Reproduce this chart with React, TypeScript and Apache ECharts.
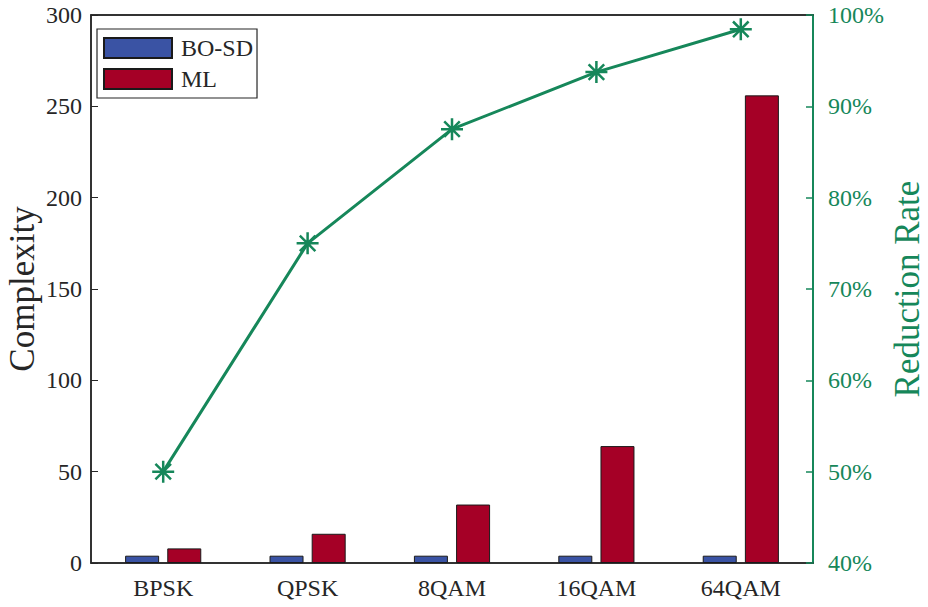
import React, { useEffect, useRef } from "react";
import * as echarts from "echarts";

const categories = ["BPSK", "QPSK", "8QAM", "16QAM", "64QAM"];
const bosdValues = [4, 4, 4, 4, 4];
const mlValues = [8, 16, 32, 64, 256];
const reductionRate = [50, 75, 87.5, 93.75, 98.4375];

const FONT = "Liberation Serif";
const GREEN = "#16875A";
const TXT = "#262626";
const ASTERISK =
  "path://M0,-10L0,10M-10,0L10,0M-7.07,-7.07L7.07,7.07M-7.07,7.07L7.07,-7.07";

export default function App() {
  const ref = useRef<HTMLDivElement>(null);
  useEffect(() => {
    if (!ref.current) return;
    const chart = echarts.init(ref.current, undefined, { renderer: "svg" });
    chart.setOption({
      animation: false,
      backgroundColor: "#fff",
      textStyle: { fontFamily: FONT },
      grid: {
        left: 91,
        right: 115,
        top: 15,
        bottom: 44,
        outerBoundsMode: "none",
        containLabel: false,
        show: true,
        borderColor: "#262626",
        borderWidth: 1.5,
        backgroundColor: "transparent",
      },
      legend: {
        orient: "vertical",
        left: 97,
        top: 29,
        icon: "rect",
        itemWidth: 68,
        itemHeight: 20,
        itemGap: 7,
        padding: [7, 4, 7, 6],
        borderColor: "#262626",
        borderWidth: 1.2,
        backgroundColor: "#fff",
        textStyle: { fontFamily: FONT, fontSize: 24, color: TXT, padding: [0, 0, 0, 4] },
        data: ["BO-SD", "ML"],
      },
      xAxis: [
        {
          type: "category",
          data: categories,
          axisLine: { lineStyle: { color: TXT, width: 1.5 } },
          axisTick: { inside: true, alignWithLabel: true, length: 7, lineStyle: { color: TXT } },
          axisLabel: { fontFamily: FONT, fontSize: 24, color: TXT, margin: 13 },
        },
        {
          type: "category",
          data: categories,
          position: "top",
          axisLine: { lineStyle: { color: TXT, width: 1.5 } },
          axisTick: { inside: true, alignWithLabel: true, length: 7, lineStyle: { color: TXT } },
          axisLabel: { show: false },
        },
      ],
      yAxis: [
        {
          type: "value",
          min: 0,
          max: 300,
          interval: 50,
          name: "Complexity",
          nameLocation: "middle",
          nameGap: 51,
          nameMoveOverlap: false,
          nameRotate: 90,
          nameTextStyle: { fontFamily: FONT, fontSize: 35, lineHeight: 35, color: TXT },
          axisLine: { show: true, lineStyle: { color: TXT, width: 1.5 } },
          axisTick: { show: true, inside: true, length: 7, lineStyle: { color: TXT } },
          axisLabel: { fontFamily: FONT, fontSize: 24, color: TXT, margin: 9 },
          splitLine: { show: false },
        },
        {
          type: "value",
          min: 40,
          max: 100,
          interval: 10,
          position: "right",
          name: "Reduction Rate",
          nameLocation: "middle",
          nameGap: 77,
          nameMoveOverlap: false,
          nameRotate: 90,
          nameTextStyle: { fontFamily: FONT, fontSize: 35, lineHeight: 35, color: GREEN },
          axisLine: { show: true, lineStyle: { color: GREEN, width: 2 } },
          axisTick: { show: true, inside: true, length: 7, lineStyle: { color: GREEN, width: 1.5 } },
          axisLabel: { fontFamily: FONT, fontSize: 24, color: GREEN, margin: 15, formatter: "{value}%" },
          splitLine: { show: false },
        },
      ],
      series: [
        {
          name: "BO-SD",
          type: "bar",
          data: bosdValues,
          barWidth: 34,
          barGap: "24%",
          itemStyle: { color: "#3A53A4", borderColor: "#1a1a1a", borderWidth: 1 },
        },
        {
          name: "ML",
          type: "bar",
          data: mlValues,
          barWidth: 34,
          itemStyle: { color: "#A50026", borderColor: "#1a1a1a", borderWidth: 1 },
        },
        {
          name: "Reduction Rate",
          type: "line",
          yAxisIndex: 1,
          data: reductionRate,
          symbol: ASTERISK,
          symbolSize: 22,
          lineStyle: { color: GREEN, width: 3 },
          itemStyle: { color: "none", borderColor: GREEN, borderWidth: 2.5 },
          z: 5,
        },
      ],
    });
    return () => chart.dispose();
  }, []);
  return <div ref={ref} style={{ width: 928, height: 607, position: "absolute", left: 0, top: 0 }} />;
}
